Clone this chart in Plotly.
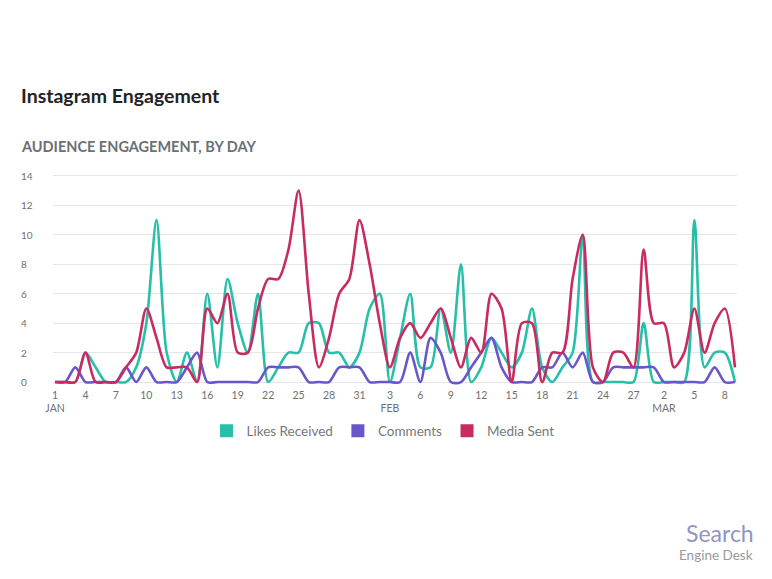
import plotly.graph_objects as go
import pandas as pd

# ---- data (Jan 1 .. Mar 9) ----
start_date = "2017-01-01"
n_days = 68
likes = [0, 0, 0, 2, 1, 0, 0, 0, 1, 4, 11, 2, 0, 2, 0, 6, 1, 7, 4, 2, 6, 0, 1, 2, 2, 4, 4, 2, 2, 1, 2,
         5, 6, 0, 3, 6, 1, 1, 5, 2, 8, 0, 1, 3, 2, 1, 2, 5, 1, 0, 1, 2, 10, 0, 0, 0, 0, 0, 4,
         0, 0, 0, 0, 11, 1, 2, 2, 0]
comments = [0, 0, 1, 0, 0, 0, 0, 1, 0, 1, 0, 0, 0, 1, 2, 0, 0, 0, 0, 0, 0, 1, 1, 1, 1, 0, 0, 0, 1, 1, 1,
            0, 0, 0, 0, 2, 0, 3, 2, 0, 0, 1, 2, 3, 1, 0, 0, 0, 1, 1, 2, 1, 2, 0, 0, 1, 1, 1, 1,
            1, 0, 0, 0, 0, 0, 1, 0, 0]
media = [0, 0, 0, 2, 0, 0, 0, 1, 2, 5, 3, 1, 1, 1, 0, 5, 4, 6, 2, 2, 5, 7, 7, 9, 13, 6, 1, 3, 6, 7, 11,
         8, 4, 1, 3, 4, 3, 4, 5, 3, 1, 3, 2, 6, 5, 0, 4, 4, 0, 2, 2, 7, 10, 1, 0, 2, 2, 1, 9,
         4, 4, 1, 2, 5, 2, 4, 5, 1]
series_names = ["Likes Received", "Comments", "Media Sent"]
series_colors = ["#27bfa9", "#6a55cb", "#c92a5f"]
y_ticks = [0, 2, 4, 6, 8, 10, 12, 14]

dates = pd.date_range(start_date, periods=n_days)
x_idx = list(range(n_days))

# tick labels every 3 days, month name under first tick of each month
tick_vals, tick_text = [], []
seen_months = set()
for i in range(0, n_days, 3):
    d = dates[i]
    label = str(d.day)
    if d.month not in seen_months:
        seen_months.add(d.month)
        label += "<br>" + d.strftime("%b").upper()
    tick_vals.append(i)
    tick_text.append(label)

# ---- layout geometry (pixels) ----
W, H = 772, 579
L, R, T, B = 53, 737, 173, 385


def px_x(px):
    return (px - L) / (R - L)


def px_y(py):
    return (B - py) / (B - T)


FONT = "Lato"
fig = go.Figure()

for name, vals, col in zip(series_names, [likes, comments, media], series_colors):
    fig.add_trace(go.Scatter(
        x=x_idx, y=vals, mode="lines", name=name, showlegend=False,
        line=dict(color=col, width=2.6, shape="spline", smoothing=0.8),
        hoverinfo="skip"))

for name, col in zip(series_names, series_colors):
    fig.add_trace(go.Scatter(
        x=[None], y=[None], mode="markers", name=name,
        marker=dict(symbol="square", size=13, color=col)))

annotations = [
    dict(text="<b>Instagram Engagement</b>", x=px_x(19), y=px_y(95), xref="paper", yref="paper",
         xanchor="left", yanchor="middle", showarrow=False,
         font=dict(family=FONT, size=19.5, color="#1f2326")),
    dict(text="<b>AUDIENCE ENGAGEMENT, BY DAY</b>", x=px_x(19), y=px_y(146), xref="paper", yref="paper",
         xanchor="left", yanchor="middle", showarrow=False,
         font=dict(family=FONT, size=14.5, color="#6a7075")),
    dict(text="Search", x=px_x(756), y=px_y(533), xref="paper", yref="paper",
         xanchor="right", yanchor="middle", showarrow=False,
         font=dict(family=FONT, size=23, color="#8f94c4")),
    dict(text="Engine Desk", x=px_x(755), y=px_y(555), xref="paper", yref="paper",
         xanchor="right", yanchor="middle", showarrow=False,
         font=dict(family=FONT, size=13.5, color="#9a9a9a")),
]
for v in y_ticks:
    annotations.append(dict(text=str(v), x=px_x(19), y=v, xref="paper", yref="y",
                            xanchor="left", yanchor="middle", showarrow=False,
                            font=dict(family=FONT, size=10, color="#6f6f6f")))

fig.update_layout(
    width=W, height=H,
    margin=dict(l=L, r=W - R, t=T, b=H - B, pad=0, autoexpand=False),
    paper_bgcolor="white", plot_bgcolor="white",
    font=dict(family=FONT, color="#6f6f6f"),
    xaxis=dict(range=[-0.2, n_days - 1 + 0.2], tickvals=tick_vals, ticktext=tick_text,
               showgrid=False, zeroline=False, showline=False, ticks="", automargin=False,
               ticklabelstandoff=2,
               tickfont=dict(family=FONT, size=10.5, color="#6f6f6f")),
    yaxis=dict(range=[-0.2, 14.2], tickvals=y_ticks, showticklabels=False, automargin=False,
               showgrid=True, gridcolor="#e6e6e6", gridwidth=1, zeroline=False, showline=False),
    legend=dict(orientation="h", xref="paper", yref="paper",
                x=px_x(383), xanchor="center", y=px_y(431), yanchor="middle",
                font=dict(family=FONT, size=13.5, color="#777777"),
                itemwidth=30, tracegroupgap=0),
    annotations=annotations,
    showlegend=True,
)

fig.write_html("out.html")
